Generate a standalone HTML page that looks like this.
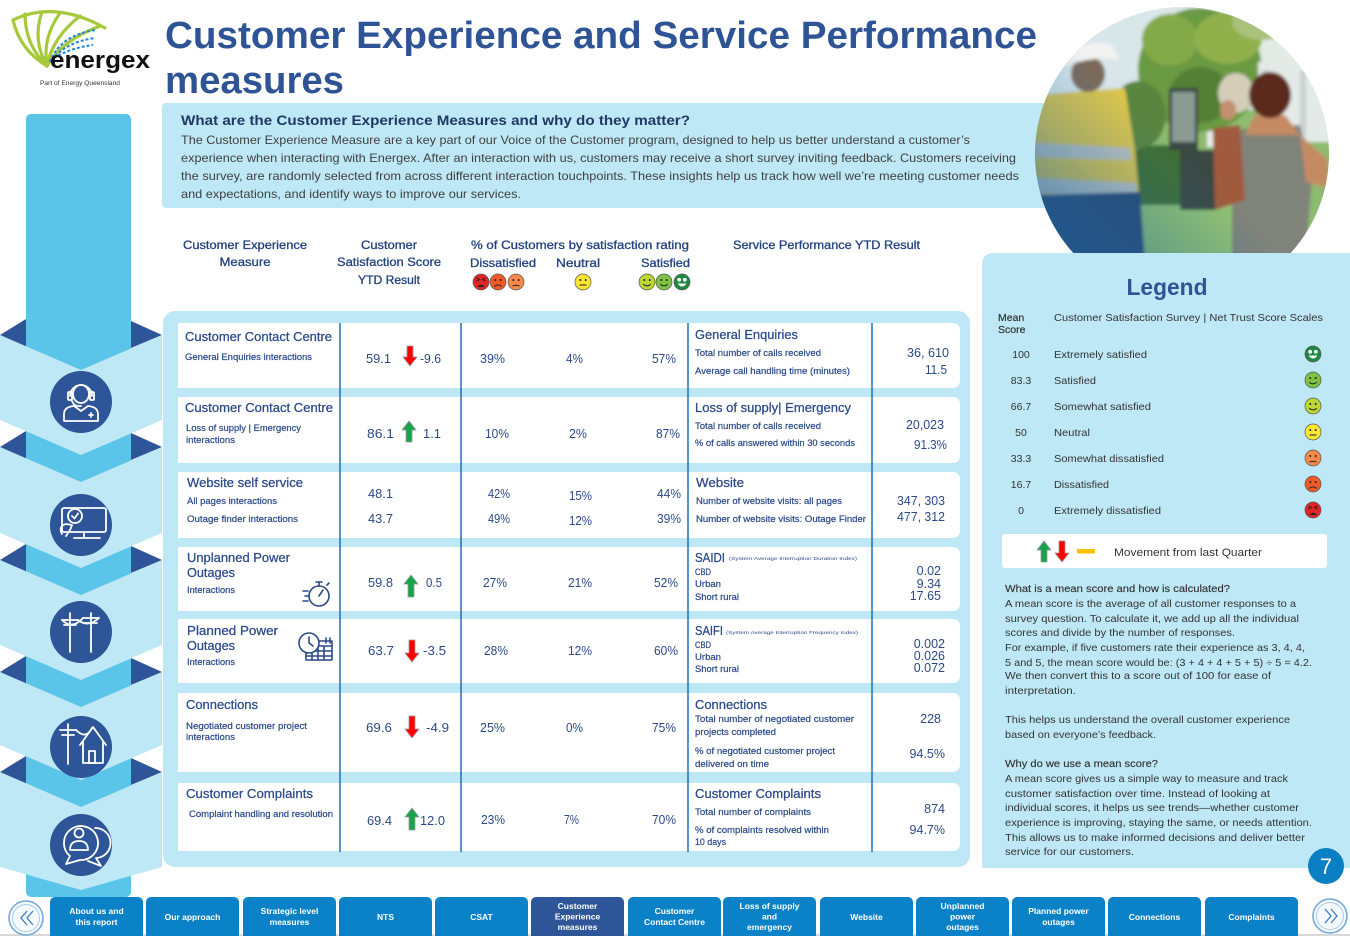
<!DOCTYPE html>
<html><head><meta charset="utf-8"><style>
html,body{margin:0;padding:0;background:#fff;}
svg{display:block;}
text{font-family:"Liberation Sans",sans-serif;}
.t1{font-size:38px;font-weight:700;fill:#2f5496}
.ih{font-size:14px;font-weight:700;fill:#1f3864}
.ib{font-size:12px;fill:#404040}
.ch{font-size:12px;fill:#22427e;stroke:#22427e;stroke-width:.3px}
.tt{font-size:12.5px;fill:#2b4a88;stroke:#2b4a88;stroke-width:.25px}
.ts{font-size:8.8px;fill:#2b4a88;stroke:#2b4a88;stroke-width:.2px}
.tn{font-size:12.5px;fill:#2b4a88}
.tiny{font-size:4.6px;fill:#2b4a88}
.lh{font-size:23px;font-weight:700;fill:#2f5496}
.lt{font-size:10.5px;fill:#333}
.nav{font-size:8.5px;font-weight:700;fill:#fff}
.wi{fill:none;stroke:#fff;stroke-width:1.8;stroke-linecap:round;stroke-linejoin:round}
.ni{fill:none;stroke:#2b4a88;stroke-width:1.6;stroke-linecap:round;stroke-linejoin:round}
</style></head><body>
<svg width="1350" height="936" viewBox="0 0 1350 936" xmlns="http://www.w3.org/2000/svg">
<defs>
<clipPath id="pc"><circle cx="1182" cy="154" r="147"/></clipPath>
<linearGradient id="bt" x1="0" y1="1" x2="1" y2="0">
<stop offset="0" stop-color="#1d5f98" stop-opacity=".85"/>
<stop offset=".5" stop-color="#1d6aa5" stop-opacity="0"/>
</linearGradient>
<linearGradient id="sky" x1="0" y1="0" x2="1" y2="0">
<stop offset="0" stop-color="#d3e4ec"/><stop offset="1" stop-color="#e6ece2"/>
</linearGradient>
<filter id="bl" x="-5%" y="-5%" width="110%" height="110%"><feGaussianBlur stdDeviation="1.6"/></filter>
</defs>

<!-- LOGO -->
<g fill="none" stroke="#a5c93a" stroke-width="3.2" stroke-linecap="round">
<path d="M47,66 Q20,50 13,20"/>
<path d="M47,66 Q25,45 25,14"/>
<path d="M47,66 Q32,40 42,12"/>
<path d="M47,66 Q42,38 60,13"/>
<path d="M47,66 Q52,38 80,16"/>
<path d="M47,66 Q62,40 100,26"/>
<path d="M13,20 Q55,0 105,28"/>
</g>
<g fill="none" stroke="#1e88d4" stroke-width="2" stroke-dasharray="3 2">
<path d="M50,62 Q60,35 96,30"/>
<path d="M52,60 Q66,42 95,38"/>
<path d="M54,58 Q70,48 93,45"/>
</g>
<text x="50" y="68" font-size="24" font-weight="700" fill="#111" textLength="100" lengthAdjust="spacingAndGlyphs">energex</text>
<text x="40" y="85" font-size="6.5" fill="#333" textLength="80" lengthAdjust="spacingAndGlyphs">Part of Energy Queensland</text>

<!-- TITLE -->
<text x="165" y="48" class="t1" textLength="872" lengthAdjust="spacingAndGlyphs">Customer Experience and Service Performance</text>
<text x="165" y="93" class="t1" textLength="179" lengthAdjust="spacingAndGlyphs">measures</text>

<!-- INTRO BOX -->
<rect x="162" y="103" width="950" height="105" rx="4" fill="#bfe8f6"/>
<text x="181" y="125" class="ih" textLength="509" lengthAdjust="spacingAndGlyphs">What are the Customer Experience Measures and why do they matter?</text>
<text x="181" y="144" class="ib" textLength="789" lengthAdjust="spacingAndGlyphs">The Customer Experience Measure are a key part of our Voice of the Customer program, designed to help us better understand a customer’s</text>
<text x="181" y="162" class="ib" textLength="835" lengthAdjust="spacingAndGlyphs">experience when interacting with Energex. After an interaction with us, customers may receive a short survey inviting feedback. Customers receiving</text>
<text x="181" y="180" class="ib" textLength="838" lengthAdjust="spacingAndGlyphs">the survey, are randomly selected from across different interaction touchpoints. These insights help us track how well we’re meeting customer needs</text>
<text x="181" y="198" class="ib" textLength="340" lengthAdjust="spacingAndGlyphs">and expectations, and identify ways to improve our services.</text>

<!-- PHOTO -->
<g clip-path="url(#pc)">
<g filter="url(#bl)">
<rect x="1030" y="0" width="310" height="310" fill="#8dbb70"/>
<rect x="1030" y="0" width="310" height="110" fill="url(#sky)"/>
<ellipse cx="1200" cy="70" rx="62" ry="62" fill="#6b9a43"/>
<ellipse cx="1170" cy="40" rx="28" ry="26" fill="#83a94a"/>
<ellipse cx="1228" cy="38" rx="34" ry="26" fill="#8fb04c"/>
<ellipse cx="1200" cy="95" rx="30" ry="28" fill="#557f36"/>
<ellipse cx="1138" cy="115" rx="28" ry="34" fill="#5a8540"/>
<ellipse cx="1262" cy="22" rx="30" ry="18" fill="#a9c17a"/>
<rect x="1258" y="62" width="75" height="80" fill="#e4eae7"/>
<rect x="1262" y="70" width="6" height="70" fill="#c9d1cf"/>
<rect x="1300" y="70" width="6" height="70" fill="#c9d1cf"/>
<ellipse cx="1160" cy="178" rx="45" ry="33" fill="#3f6e33"/>
<rect x="1100" y="205" width="150" height="100" fill="#93c272"/>
<rect x="1169" y="88" width="29" height="62" fill="#3b4944"/>
<rect x="1172" y="92" width="23" height="50" fill="#8a9a95"/>
<rect x="1180" y="150" width="35" height="60" fill="#3a4a44"/>
<rect x="1207" y="131" width="20" height="16" fill="#e8ece8"/>
<path d="M1035,95 L1125,88 L1135,150 L1140,205 L1035,210 Z" fill="#dcc54e"/>
<path d="M1035,143 L1130,148 L1131,160 L1035,157Z" fill="#bcc3bf"/>
<path d="M1035,178 L1136,183 L1137,196 L1035,193Z" fill="#bcc3bf"/>
<path d="M1035,195 L1140,192 L1148,300 L1035,300Z" fill="#2a4670"/>
<ellipse cx="1088" cy="74" rx="17" ry="18" fill="#7d6a5a"/>
<path d="M1066,62 Q1085,35 1112,45 L1120,60 Q1095,55 1066,66Z" fill="#f2f2f2"/>
<path d="M1232,130 L1300,125 L1312,180 L1305,260 L1232,260Z" fill="#80837a"/>
<path d="M1213,128 L1240,125 L1245,200 L1215,210Z" fill="#a05a3c"/>
<ellipse cx="1236" cy="93" rx="18" ry="20" fill="#d3cdb9"/>
<ellipse cx="1228" cy="110" rx="8" ry="10" fill="#c3906f"/>
<path d="M1255,115 L1285,115 L1300,135 L1245,135Z" fill="#c48a62"/>
<ellipse cx="1270" cy="95" rx="21" ry="23" fill="#5b2c1a"/>
<path d="M1300,135 L1328,160 L1328,188 L1306,182Z" fill="#c48a62"/>
</g>
<rect x="1030" y="0" width="310" height="310" fill="url(#bt)"/>
</g>

<!-- COLUMN HEADERS -->
<text x="245" y="249" class="ch" text-anchor="middle" textLength="124" lengthAdjust="spacingAndGlyphs">Customer Experience</text>
<text x="245" y="266" class="ch" text-anchor="middle" textLength="51" lengthAdjust="spacingAndGlyphs">Measure</text>
<text x="389" y="249" class="ch" text-anchor="middle" textLength="56" lengthAdjust="spacingAndGlyphs">Customer</text>
<text x="389" y="266" class="ch" text-anchor="middle" textLength="104" lengthAdjust="spacingAndGlyphs">Satisfaction Score</text>
<text x="389" y="284" class="ch" text-anchor="middle" textLength="62" lengthAdjust="spacingAndGlyphs">YTD Result</text>
<text x="471" y="249" class="ch" textLength="218" lengthAdjust="spacingAndGlyphs">% of Customers by satisfaction rating</text>
<text x="470" y="267" class="ch" textLength="66" lengthAdjust="spacingAndGlyphs">Dissatisfied</text>
<text x="556" y="267" class="ch" textLength="44" lengthAdjust="spacingAndGlyphs">Neutral</text>
<text x="641" y="267" class="ch" textLength="49" lengthAdjust="spacingAndGlyphs">Satisfied</text>
<text x="733" y="249" class="ch" textLength="187" lengthAdjust="spacingAndGlyphs">Service Performance YTD Result</text>

<!-- header faces -->
<g transform="translate(481,282)"><circle r="8" fill="#e42525" stroke="#555" stroke-width=".7"/><path d="M-4.5,-4 L-1.5,-2.5 L-4.5,-1 M4.5,-4 L1.5,-2.5 L4.5,-1" stroke="#222" stroke-width="1" fill="none"/><path d="M-4,5 Q0,0.5 4,5Z" fill="#222"/></g>
<g transform="translate(498,282)"><circle r="8" fill="#f05a28" stroke="#555" stroke-width=".7"/><circle cx="-2.7" cy="-2" r="1" fill="#222"/><circle cx="2.7" cy="-2" r="1" fill="#222"/><path d="M-3.8,4.5 Q0,1.2 3.8,4.5" stroke="#222" stroke-width="1" fill="none"/></g>
<g transform="translate(516,282)"><circle r="8" fill="#f5884a" stroke="#555" stroke-width=".7"/><circle cx="-2.7" cy="-2" r="1" fill="#222"/><circle cx="2.7" cy="-2" r="1" fill="#222"/><path d="M-3.5,4 Q0,2.5 3.5,4" stroke="#222" stroke-width="1" fill="none"/></g>
<g transform="translate(583,282)"><circle r="8" fill="#f8e630" stroke="#555" stroke-width=".7"/><circle cx="-2.7" cy="-2" r="1" fill="#222"/><circle cx="2.7" cy="-2" r="1" fill="#222"/><path d="M-3.5,3 H3.5" stroke="#222" stroke-width="1" fill="none"/></g>
<g transform="translate(647,282)"><circle r="8" fill="#bcd634" stroke="#555" stroke-width=".7"/><circle cx="-2.7" cy="-2" r="1" fill="#222"/><circle cx="2.7" cy="-2" r="1" fill="#222"/><path d="M-3.8,2.2 Q0,5.5 3.8,2.2" stroke="#222" stroke-width="1" fill="none"/></g>
<g transform="translate(664,282)"><circle r="8" fill="#7ec244" stroke="#555" stroke-width=".7"/><circle cx="-2.7" cy="-2" r="1" fill="#222"/><circle cx="2.7" cy="-2" r="1" fill="#222"/><path d="M-3.8,2.2 Q0,5.5 3.8,2.2" stroke="#222" stroke-width="1" fill="none"/></g>
<g transform="translate(682,282)"><circle r="8" fill="#1f8a3f" stroke="#555" stroke-width=".7"/><circle cx="-2.8" cy="-2.2" r="1.9" fill="#fff"/><circle cx="2.8" cy="-2.2" r="1.9" fill="#fff"/><path d="M-4.5,1.5 Q0,7.5 4.5,1.5Z" fill="#fff"/></g>

<!-- SIDEBAR -->
<rect x="26" y="114" width="105" height="783" rx="5" fill="#5ac5e8"/>
<g fill="#2e5597">
<polygon points="26,319 0,335 26,348"/><polygon points="131,321 162,335 131,348"/>
<polygon points="26,431 0,447 26,460"/><polygon points="131,433 162,447 131,460"/>
<polygon points="26,544 0,560 26,573"/><polygon points="131,546 162,560 131,573"/>
<polygon points="26,656 0,672 26,685"/><polygon points="131,658 162,672 131,685"/>
<polygon points="26,756 0,772 26,785"/><polygon points="131,758 162,772 131,785"/>
</g>
<g fill="#bfe8f6">
<polygon points="0,335 81,370 162,335 162,420 81,455 0,420"/>
<polygon points="0,447 81,482 162,447 162,533 81,568 0,533"/>
<polygon points="0,560 81,595 162,560 162,645 81,680 0,645"/>
<polygon points="0,672 81,707 162,672 162,745 81,780 0,745"/>
<polygon points="0,772 81,807 162,772 162,867 81,890 0,867"/>
</g>
<g fill="#2e5597">
<circle cx="81" cy="402" r="31"/><circle cx="81" cy="525" r="31"/><circle cx="81" cy="632" r="31"/><circle cx="81" cy="747" r="31"/><circle cx="81" cy="845" r="31"/>
</g>
<g class="wi">
<ellipse cx="81" cy="394" rx="8" ry="9"/>
<path d="M70,396 A11,11 0 0 1 92,396"/>
<rect x="68" y="392" width="4" height="8" rx="1"/><rect x="90" y="392" width="4" height="8" rx="1"/>
<path d="M72,401 Q74,407 81,406"/>
<path d="M64,421 V414 Q64,407 74,406 L81,411 L88,406 Q98,407 98,414 V421 Z"/>
<path d="M89,415 H93 M91,413 V417"/>
</g>
<g class="wi">
<rect x="62" y="508" width="44" height="24" rx="2"/>
<path d="M84,532 V538 M74,538 H100"/>
<circle cx="75" cy="516" r="7"/>
<path d="M72,516 L74.5,518.5 L78,513.5"/>
<path d="M62,534 Q58,526 66,524 L72,525 L70,530 L66,536"/>
</g>
<g class="wi">
<path d="M70,613 V652 M91,613 V652"/>
<path d="M62,620 H78 M64,625 H76 M83,618 H99 M85,623 H97"/>
<path d="M62,620 Q72,630 83,618 M78,620 Q88,628 99,618"/>
</g>
<g class="wi">
<path d="M68,724 V764 M60,730 H76 M62,735 H74"/>
<path d="M76,730 Q86,740 92,728"/>
<path d="M80,745 L93,727 L106,745 M83,742 V763 H103 V742"/>
<rect x="89" y="751" width="6" height="12"/>
</g>
<g class="wi">
<path d="M70,856 A17,17 0 1 1 80,860 L66,864 Z"/>
<path d="M95,828 A14,14 0 0 1 96,858 L101,866 L88,861"/>
<circle cx="79" cy="833" r="4.5"/>
<path d="M70,850 Q70,841 79,841 Q88,841 88,850 Z"/>
</g>

<!-- MAIN PANEL -->
<rect x="163" y="311" width="807" height="556" rx="12" fill="#bfe8f6"/>
<g fill="#fff">
<path d="M178,323 H952 Q960,323 960,331 V380 Q960,388 952,388 H178 Z"/>
<path d="M178,397 H952 Q960,397 960,405 V455 Q960,463 952,463 H178 Z"/>
<path d="M178,472 H952 Q960,472 960,480 V530 Q960,538 952,538 H178 Z"/>
<path d="M178,547 H952 Q960,547 960,555 V603 Q960,611 952,611 H178 Z"/>
<path d="M178,619 H952 Q960,619 960,627 V675 Q960,683 952,683 H178 Z"/>
<path d="M178,693 H952 Q960,693 960,701 V764 Q960,772 952,772 H178 Z"/>
<path d="M178,783 H952 Q960,783 960,791 V843 Q960,851 952,851 H178 Z"/>
</g>
<g stroke="#1e6fc0" stroke-width="1.5">
<line x1="340" y1="323" x2="340" y2="852"/>
<line x1="461" y1="323" x2="461" y2="852"/>
<line x1="688" y1="323" x2="688" y2="852"/>
<line x1="872" y1="323" x2="872" y2="852"/>
</g>

<g stroke="#999" stroke-width=".8">
<polygon fill="#ff0000" points="410,366 417,357 413,357 413,346 407,346 407,357 403,357"/>
<polygon fill="#16a34a" points="409,421 416,430 412,430 412,442 406,442 406,430 402,430"/>
<polygon fill="#16a34a" points="411,575 418,584 414,584 414,597 408,597 408,584 404,584"/>
<polygon fill="#ff0000" points="412,662 419,653 415,653 415,640 409,640 409,653 405,653"/>
<polygon fill="#ff0000" points="412,738 419,729 415,729 415,716 409,716 409,729 405,729"/>
<polygon fill="#16a34a" points="412,808 419,817 415,817 415,830 409,830 409,817 405,817"/>
</g>

<!-- Row 1 -->
<text x="185" y="341" class="tt" textLength="147" lengthAdjust="spacingAndGlyphs">Customer Contact Centre</text>
<text x="185" y="360" class="ts" textLength="127" lengthAdjust="spacingAndGlyphs">General Enquiries interactions</text>
<text x="366" y="363" class="tn" textLength="25" lengthAdjust="spacingAndGlyphs">59.1</text>
<text x="420" y="363" class="tn" textLength="21" lengthAdjust="spacingAndGlyphs">-9.6</text>
<text x="480" y="363" class="tn" textLength="25" lengthAdjust="spacingAndGlyphs">39%</text>
<text x="566" y="363" class="tn" textLength="17" lengthAdjust="spacingAndGlyphs">4%</text>
<text x="652" y="363" class="tn" textLength="24" lengthAdjust="spacingAndGlyphs">57%</text>
<text x="695" y="339" class="tt" textLength="103" lengthAdjust="spacingAndGlyphs">General Enquiries</text>
<text x="695" y="356" class="ts" textLength="126" lengthAdjust="spacingAndGlyphs">Total number of calls received</text>
<text x="695" y="374" class="ts" textLength="155" lengthAdjust="spacingAndGlyphs">Average call handling time (minutes)</text>
<text x="949" y="357" class="tn" text-anchor="end" textLength="42" lengthAdjust="spacingAndGlyphs">36, 610</text>
<text x="947" y="374" class="tn" text-anchor="end" textLength="22" lengthAdjust="spacingAndGlyphs">11.5</text>

<!-- Row 2 -->
<text x="185" y="412" class="tt" textLength="148" lengthAdjust="spacingAndGlyphs">Customer Contact Centre</text>
<text x="186" y="431" class="ts" textLength="115" lengthAdjust="spacingAndGlyphs">Loss of supply | Emergency</text>
<text x="186" y="443" class="ts" textLength="49" lengthAdjust="spacingAndGlyphs">interactions</text>
<text x="367" y="438" class="tn" textLength="27" lengthAdjust="spacingAndGlyphs">86.1</text>
<text x="423" y="438" class="tn" textLength="18" lengthAdjust="spacingAndGlyphs">1.1</text>
<text x="485" y="438" class="tn" textLength="24" lengthAdjust="spacingAndGlyphs">10%</text>
<text x="569" y="438" class="tn" textLength="18" lengthAdjust="spacingAndGlyphs">2%</text>
<text x="656" y="438" class="tn" textLength="24" lengthAdjust="spacingAndGlyphs">87%</text>
<text x="695" y="412" class="tt" textLength="156" lengthAdjust="spacingAndGlyphs">Loss of supply| Emergency</text>
<text x="695" y="429" class="ts" textLength="126" lengthAdjust="spacingAndGlyphs">Total number of calls received</text>
<text x="695" y="446" class="ts" textLength="160" lengthAdjust="spacingAndGlyphs">% of calls answered within 30 seconds</text>
<text x="944" y="429" class="tn" text-anchor="end" textLength="38" lengthAdjust="spacingAndGlyphs">20,023</text>
<text x="947" y="449" class="tn" text-anchor="end" textLength="33" lengthAdjust="spacingAndGlyphs">91.3%</text>

<!-- Row 3 -->
<text x="187" y="487" class="tt" textLength="116" lengthAdjust="spacingAndGlyphs">Website self service</text>
<text x="187" y="504" class="ts" textLength="90" lengthAdjust="spacingAndGlyphs">All pages interactions</text>
<text x="187" y="522" class="ts" textLength="111" lengthAdjust="spacingAndGlyphs">Outage finder interactions</text>
<text x="368" y="498" class="tn" textLength="25" lengthAdjust="spacingAndGlyphs">48.1</text>
<text x="368" y="523" class="tn" textLength="25" lengthAdjust="spacingAndGlyphs">43.7</text>
<text x="488" y="498" class="tn" textLength="22" lengthAdjust="spacingAndGlyphs">42%</text>
<text x="488" y="523" class="tn" textLength="22" lengthAdjust="spacingAndGlyphs">49%</text>
<text x="569" y="500" class="tn" textLength="23" lengthAdjust="spacingAndGlyphs">15%</text>
<text x="569" y="525" class="tn" textLength="23" lengthAdjust="spacingAndGlyphs">12%</text>
<text x="657" y="498" class="tn" textLength="24" lengthAdjust="spacingAndGlyphs">44%</text>
<text x="657" y="523" class="tn" textLength="24" lengthAdjust="spacingAndGlyphs">39%</text>
<text x="696" y="487" class="tt" textLength="48" lengthAdjust="spacingAndGlyphs">Website</text>
<text x="696" y="504" class="ts" textLength="146" lengthAdjust="spacingAndGlyphs">Number of website visits: all pages</text>
<text x="696" y="522" class="ts" textLength="170" lengthAdjust="spacingAndGlyphs">Number of website visits: Outage Finder</text>
<text x="945" y="505" class="tn" text-anchor="end" textLength="48" lengthAdjust="spacingAndGlyphs">347, 303</text>
<text x="945" y="521" class="tn" text-anchor="end" textLength="48" lengthAdjust="spacingAndGlyphs">477, 312</text>

<!-- Row 4 -->
<text x="187" y="562" class="tt" textLength="103" lengthAdjust="spacingAndGlyphs">Unplanned Power</text>
<text x="187" y="577" class="tt" textLength="48" lengthAdjust="spacingAndGlyphs">Outages</text>
<text x="187" y="593" class="ts" textLength="48" lengthAdjust="spacingAndGlyphs">Interactions</text>
<g class="ni">
<circle cx="319" cy="596" r="10"/>
<path d="M316,582 H322 M319,582 V586 M319,596 L323,590 M327,585 L329,583"/>
<path d="M303,591 H308 M305,596 H309 M303,601 H308"/>
</g>
<text x="368" y="587" class="tn" textLength="25" lengthAdjust="spacingAndGlyphs">59.8</text>
<text x="426" y="587" class="tn" textLength="16" lengthAdjust="spacingAndGlyphs">0.5</text>
<text x="483" y="587" class="tn" textLength="24" lengthAdjust="spacingAndGlyphs">27%</text>
<text x="568" y="587" class="tn" textLength="24" lengthAdjust="spacingAndGlyphs">21%</text>
<text x="654" y="587" class="tn" textLength="24" lengthAdjust="spacingAndGlyphs">52%</text>
<text x="695" y="562" class="tt" textLength="30" lengthAdjust="spacingAndGlyphs">SAIDI</text>
<text x="729" y="560" class="tiny" textLength="128" lengthAdjust="spacingAndGlyphs">(System Average Interruption Duration Index)</text>
<text x="695" y="575" class="ts" textLength="16" lengthAdjust="spacingAndGlyphs">CBD</text>
<text x="695" y="587" class="ts" textLength="26" lengthAdjust="spacingAndGlyphs">Urban</text>
<text x="695" y="600" class="ts" textLength="44" lengthAdjust="spacingAndGlyphs">Short rural</text>
<text x="941" y="575" class="tn" text-anchor="end">0.02</text>
<text x="941" y="588" class="tn" text-anchor="end">9.34</text>
<text x="941" y="600" class="tn" text-anchor="end">17.65</text>

<!-- Row 5 -->
<text x="187" y="635" class="tt" textLength="91" lengthAdjust="spacingAndGlyphs">Planned Power</text>
<text x="187" y="650" class="tt" textLength="48" lengthAdjust="spacingAndGlyphs">Outages</text>
<text x="187" y="665" class="ts" textLength="48" lengthAdjust="spacingAndGlyphs">Interactions</text>
<g class="ni" stroke-width="1.2">
<rect x="306" y="641" width="26" height="19" fill="#fff"/>
<path d="M306,646 H332 M312,646 V660 M318,646 V660 M324,646 V660 M306,651 H332 M306,656 H332"/>
<circle cx="309" cy="643" r="10" fill="#fff"/>
<path d="M309,637 V643 L313,646"/>
<path d="M326,638 V643 M330,638 V643"/>
</g>
<text x="368" y="655" class="tn" textLength="26" lengthAdjust="spacingAndGlyphs">63.7</text>
<text x="423" y="655" class="tn" textLength="23" lengthAdjust="spacingAndGlyphs">-3.5</text>
<text x="484" y="655" class="tn" textLength="24" lengthAdjust="spacingAndGlyphs">28%</text>
<text x="568" y="655" class="tn" textLength="24" lengthAdjust="spacingAndGlyphs">12%</text>
<text x="654" y="655" class="tn" textLength="24" lengthAdjust="spacingAndGlyphs">60%</text>
<text x="695" y="635" class="tt" textLength="28" lengthAdjust="spacingAndGlyphs">SAIFI</text>
<text x="726" y="634" class="tiny" textLength="132" lengthAdjust="spacingAndGlyphs">(System Average Interruption Frequency Index)</text>
<text x="695" y="648" class="ts" textLength="16" lengthAdjust="spacingAndGlyphs">CBD</text>
<text x="695" y="660" class="ts" textLength="26" lengthAdjust="spacingAndGlyphs">Urban</text>
<text x="695" y="672" class="ts" textLength="44" lengthAdjust="spacingAndGlyphs">Short rural</text>
<text x="945" y="648" class="tn" text-anchor="end">0.002</text>
<text x="945" y="660" class="tn" text-anchor="end">0.026</text>
<text x="945" y="672" class="tn" text-anchor="end">0.072</text>

<!-- Row 6 -->
<text x="186" y="709" class="tt" textLength="72" lengthAdjust="spacingAndGlyphs">Connections</text>
<text x="186" y="729" class="ts" textLength="121" lengthAdjust="spacingAndGlyphs">Negotiated customer project</text>
<text x="186" y="740" class="ts" textLength="49" lengthAdjust="spacingAndGlyphs">interactions</text>
<text x="366" y="732" class="tn" textLength="26" lengthAdjust="spacingAndGlyphs">69.6</text>
<text x="426" y="732" class="tn" textLength="23" lengthAdjust="spacingAndGlyphs">-4.9</text>
<text x="480" y="732" class="tn" textLength="25" lengthAdjust="spacingAndGlyphs">25%</text>
<text x="566" y="732" class="tn" textLength="17" lengthAdjust="spacingAndGlyphs">0%</text>
<text x="652" y="732" class="tn" textLength="24" lengthAdjust="spacingAndGlyphs">75%</text>
<text x="695" y="709" class="tt" textLength="72" lengthAdjust="spacingAndGlyphs">Connections</text>
<text x="695" y="722" class="ts" textLength="159" lengthAdjust="spacingAndGlyphs">Total number of negotiated customer</text>
<text x="695" y="735" class="ts" textLength="81" lengthAdjust="spacingAndGlyphs">projects completed</text>
<text x="695" y="754" class="ts" textLength="140" lengthAdjust="spacingAndGlyphs">% of negotiated customer project</text>
<text x="695" y="767" class="ts" textLength="74" lengthAdjust="spacingAndGlyphs">delivered on time</text>
<text x="941" y="723" class="tn" text-anchor="end">228</text>
<text x="945" y="758" class="tn" text-anchor="end">94.5%</text>

<!-- Row 7 -->
<text x="186" y="798" class="tt" textLength="127" lengthAdjust="spacingAndGlyphs">Customer Complaints</text>
<text x="189" y="817" class="ts" textLength="144" lengthAdjust="spacingAndGlyphs">Complaint handling and resolution</text>
<text x="367" y="825" class="tn" textLength="25" lengthAdjust="spacingAndGlyphs">69.4</text>
<text x="420" y="825" class="tn" textLength="25" lengthAdjust="spacingAndGlyphs">12.0</text>
<text x="481" y="824" class="tn" textLength="24" lengthAdjust="spacingAndGlyphs">23%</text>
<text x="564" y="824" class="tn" textLength="15" lengthAdjust="spacingAndGlyphs">7%</text>
<text x="652" y="824" class="tn" textLength="24" lengthAdjust="spacingAndGlyphs">70%</text>
<text x="695" y="798" class="tt" textLength="126" lengthAdjust="spacingAndGlyphs">Customer Complaints</text>
<text x="695" y="815" class="ts" textLength="116" lengthAdjust="spacingAndGlyphs">Total number of complaints</text>
<text x="695" y="833" class="ts" textLength="134" lengthAdjust="spacingAndGlyphs">% of complaints resolved within</text>
<text x="695" y="845" class="ts" textLength="31" lengthAdjust="spacingAndGlyphs">10 days</text>
<text x="945" y="813" class="tn" text-anchor="end">874</text>
<text x="945" y="834" class="tn" text-anchor="end">94.7%</text>

<!-- LEGEND -->
<path d="M994,253 H1350 V868 H982 V265 Q982,253 994,253 Z" fill="#bfe8f6"/>
<text x="1167" y="295" class="lh" text-anchor="middle" textLength="81" lengthAdjust="spacingAndGlyphs">Legend</text>
<text x="998" y="321" class="lt" stroke="#333" stroke-width=".2">Mean</text>
<text x="998" y="333" class="lt" stroke="#333" stroke-width=".2">Score</text>
<text x="1054" y="321" class="lt" textLength="269" lengthAdjust="spacingAndGlyphs">Customer Satisfaction Survey | Net Trust Score Scales</text>
<g class="lt" text-anchor="middle">
<text x="1021" y="358">100</text>
<text x="1021" y="384">83.3</text>
<text x="1021" y="410">66.7</text>
<text x="1021" y="436">50</text>
<text x="1021" y="462">33.3</text>
<text x="1021" y="488">16.7</text>
<text x="1021" y="514">0</text>
</g>
<text x="1054" y="358" class="lt" textLength="93" lengthAdjust="spacingAndGlyphs">Extremely satisfied</text>
<text x="1054" y="384" class="lt" textLength="42" lengthAdjust="spacingAndGlyphs">Satisfied</text>
<text x="1054" y="410" class="lt" textLength="97" lengthAdjust="spacingAndGlyphs">Somewhat satisfied</text>
<text x="1054" y="436" class="lt" textLength="36" lengthAdjust="spacingAndGlyphs">Neutral</text>
<text x="1054" y="462" class="lt" textLength="110" lengthAdjust="spacingAndGlyphs">Somewhat dissatisfied</text>
<text x="1054" y="488" class="lt" textLength="55" lengthAdjust="spacingAndGlyphs">Dissatisfied</text>
<text x="1054" y="514" class="lt" textLength="107" lengthAdjust="spacingAndGlyphs">Extremely dissatisfied</text>

<g transform="translate(1313,354)"><circle r="8" fill="#1f8a3f" stroke="#555" stroke-width=".7"/><circle cx="-2.8" cy="-2.2" r="1.9" fill="#fff"/><circle cx="2.8" cy="-2.2" r="1.9" fill="#fff"/><path d="M-4.5,1.5 Q0,7.5 4.5,1.5Z" fill="#fff"/></g>
<g transform="translate(1313,380)"><circle r="8" fill="#7ec244" stroke="#555" stroke-width=".7"/><circle cx="-2.7" cy="-2" r="1" fill="#222"/><circle cx="2.7" cy="-2" r="1" fill="#222"/><path d="M-3.8,2.2 Q0,5.5 3.8,2.2" stroke="#222" stroke-width="1" fill="none"/></g>
<g transform="translate(1313,406)"><circle r="8" fill="#bcd634" stroke="#555" stroke-width=".7"/><circle cx="-2.7" cy="-2" r="1" fill="#222"/><circle cx="2.7" cy="-2" r="1" fill="#222"/><path d="M-3.8,2.2 Q0,5.5 3.8,2.2" stroke="#222" stroke-width="1" fill="none"/></g>
<g transform="translate(1313,432)"><circle r="8" fill="#f8e630" stroke="#555" stroke-width=".7"/><circle cx="-2.7" cy="-2" r="1" fill="#222"/><circle cx="2.7" cy="-2" r="1" fill="#222"/><path d="M-3.5,3 H3.5" stroke="#222" stroke-width="1" fill="none"/></g>
<g transform="translate(1313,458)"><circle r="8" fill="#f5884a" stroke="#555" stroke-width=".7"/><circle cx="-2.7" cy="-2" r="1" fill="#222"/><circle cx="2.7" cy="-2" r="1" fill="#222"/><path d="M-3.5,4 Q0,2.5 3.5,4" stroke="#222" stroke-width="1" fill="none"/></g>
<g transform="translate(1313,484)"><circle r="8" fill="#f05a28" stroke="#555" stroke-width=".7"/><circle cx="-2.7" cy="-2" r="1" fill="#222"/><circle cx="2.7" cy="-2" r="1" fill="#222"/><path d="M-3.8,4.5 Q0,1.2 3.8,4.5" stroke="#222" stroke-width="1" fill="none"/></g>
<g transform="translate(1313,510)"><circle r="8" fill="#e42525" stroke="#555" stroke-width=".7"/><path d="M-4.5,-4 L-1.5,-2.5 L-4.5,-1 M4.5,-4 L1.5,-2.5 L4.5,-1" stroke="#222" stroke-width="1" fill="none"/><path d="M-4,5 Q0,0.5 4,5Z" fill="#222"/></g>

<rect x="1002" y="534" width="325" height="34" rx="3" fill="#fff"/>
<g stroke="#999" stroke-width=".8">
<polygon fill="#16a34a" points="1044,541 1051,550 1047,550 1047,562 1041,562 1041,550 1037,550"/>
<polygon fill="#ff0000" points="1062,562 1069,553 1065,553 1065,541 1059,541 1059,553 1055,553"/>
</g>
<rect x="1077" y="549" width="18" height="4.5" fill="#ffc000"/>
<text x="1114" y="556" font-size="11" fill="#333" textLength="148" lengthAdjust="spacingAndGlyphs">Movement from last Quarter</text>

<g class="lt">
<text x="1005" y="592" textLength="225" lengthAdjust="spacingAndGlyphs" stroke="#333" stroke-width=".15">What is a mean score and how is calculated?</text>
<text x="1005" y="607" textLength="291" lengthAdjust="spacingAndGlyphs">A mean score is the average of all customer responses to a</text>
<text x="1005" y="622" textLength="294" lengthAdjust="spacingAndGlyphs">survey question. To calculate it, we add up all the individual</text>
<text x="1005" y="636" textLength="230" lengthAdjust="spacingAndGlyphs">scores and divide by the number of responses.</text>
<text x="1005" y="651" textLength="300" lengthAdjust="spacingAndGlyphs">For example, if five customers rate their experience as 3, 4, 4,</text>
<text x="1005" y="666" textLength="307" lengthAdjust="spacingAndGlyphs">5 and 5, the mean score would be: (3 + 4 + 4 + 5 + 5) ÷ 5 = 4.2.</text>
<text x="1005" y="679" textLength="266" lengthAdjust="spacingAndGlyphs">We then convert this to a score out of 100 for ease of</text>
<text x="1005" y="694" textLength="71" lengthAdjust="spacingAndGlyphs">interpretation.</text>
<text x="1005" y="723" textLength="285" lengthAdjust="spacingAndGlyphs">This helps us understand the overall customer experience</text>
<text x="1005" y="738" textLength="151" lengthAdjust="spacingAndGlyphs">based on everyone’s feedback.</text>
<text x="1005" y="767" textLength="153" lengthAdjust="spacingAndGlyphs" stroke="#333" stroke-width=".15">Why do we use a mean score?</text>
<text x="1005" y="782" textLength="283" lengthAdjust="spacingAndGlyphs">A mean score gives us a simple way to measure and track</text>
<text x="1005" y="797" textLength="265" lengthAdjust="spacingAndGlyphs">customer satisfaction over time. Instead of looking at</text>
<text x="1005" y="811" textLength="294" lengthAdjust="spacingAndGlyphs">individual scores, it helps us see trends—whether customer</text>
<text x="1005" y="826" textLength="307" lengthAdjust="spacingAndGlyphs">experience is improving, staying the same, or needs attention.</text>
<text x="1005" y="841" textLength="300" lengthAdjust="spacingAndGlyphs">This allows us to make informed decisions and deliver better</text>
<text x="1005" y="855" textLength="129" lengthAdjust="spacingAndGlyphs">service for our customers.</text>
</g>

<circle cx="1326" cy="866" r="18" fill="#0a7fc4"/>
<text x="1326" y="874" font-size="22" fill="#fff" text-anchor="middle">7</text>

<!-- BOTTOM NAV -->
<rect x="0" y="934" width="1350" height="2" fill="#d8d8d8"/>
<g fill="#0b82c7">
<rect x="50" y="897" width="93" height="50" rx="5"/>
<rect x="146" y="897" width="93" height="50" rx="5"/>
<rect x="243" y="897" width="93" height="50" rx="5"/>
<rect x="339" y="897" width="93" height="50" rx="5"/>
<rect x="435" y="897" width="93" height="50" rx="5"/>
<rect x="531" y="897" width="93" height="50" rx="5" fill="#2e5597"/>
<rect x="628" y="897" width="93" height="50" rx="5"/>
<rect x="723" y="897" width="93" height="50" rx="5"/>
<rect x="820" y="897" width="93" height="50" rx="5"/>
<rect x="916" y="897" width="93" height="50" rx="5"/>
<rect x="1012" y="897" width="93" height="50" rx="5"/>
<rect x="1108" y="897" width="93" height="50" rx="5"/>
<rect x="1205" y="897" width="93" height="50" rx="5"/>
</g>
<g class="nav" text-anchor="middle">
<text x="96.5" y="914">About us and</text><text x="96.5" y="925">this report</text>
<text x="192.5" y="920">Our approach</text>
<text x="289.5" y="914">Strategic level</text><text x="289.5" y="925">measures</text>
<text x="385.5" y="920">NTS</text>
<text x="481.5" y="920">CSAT</text>
<text x="577.5" y="909">Customer</text><text x="577.5" y="919.5">Experience</text><text x="577.5" y="930">measures</text>
<text x="674.5" y="914">Customer</text><text x="674.5" y="925">Contact Centre</text>
<text x="769.5" y="909">Loss of supply</text><text x="769.5" y="919.5">and</text><text x="769.5" y="930">emergency</text>
<text x="866.5" y="920">Website</text>
<text x="962.5" y="909">Unplanned</text><text x="962.5" y="919.5">power</text><text x="962.5" y="930">outages</text>
<text x="1058.5" y="914">Planned power</text><text x="1058.5" y="925">outages</text>
<text x="1154.5" y="920">Connections</text>
<text x="1251.5" y="920">Complaints</text>
</g>
<circle cx="26" cy="918" r="17" fill="#f4f9fc" stroke="#6fa6d6" stroke-width="1.5"/>
<circle cx="26" cy="918" r="13.5" fill="none" stroke="#a9cbe8" stroke-width="1"/>
<path d="M27,911 L21,918 L27,925 M33,911 L27,918 L33,925" fill="none" stroke="#3a7fc4" stroke-width="1.3"/>
<circle cx="1330" cy="916" r="17" fill="#f4f9fc" stroke="#6fa6d6" stroke-width="1.5"/>
<circle cx="1330" cy="916" r="13.5" fill="none" stroke="#a9cbe8" stroke-width="1"/>
<path d="M1325,909 L1331,916 L1325,923 M1331,909 L1337,916 L1331,923" fill="none" stroke="#3a7fc4" stroke-width="1.3"/>
</svg>
</body></html>
